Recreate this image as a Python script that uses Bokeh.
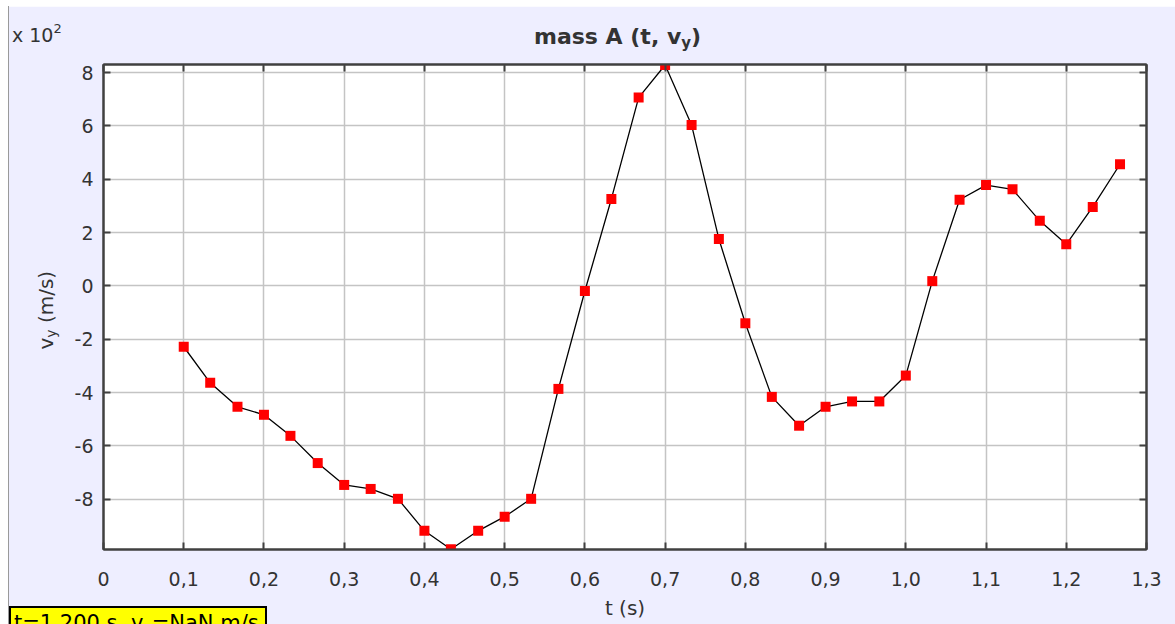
from bokeh.plotting import figure
from bokeh.layouts import column
from bokeh.models import (Range1d, FixedTicker, CustomJSTickFormatter, LinearAxis, Div)
from bokeh.embed import file_html
from bokeh.resources import INLINE

# ---- data ----
t_s = [0.100, 0.133, 0.167, 0.200, 0.233, 0.267, 0.300, 0.333, 0.367, 0.400,
       0.433, 0.467, 0.500, 0.533, 0.567, 0.600, 0.633, 0.667, 0.700, 0.733,
       0.767, 0.800, 0.833, 0.867, 0.900, 0.933, 0.967, 1.000, 1.033, 1.067,
       1.100, 1.133, 1.167, 1.200, 1.233, 1.267]
vy_ms = [-228, -363, -453, -483, -562, -664, -746, -761, -798, -918,
         -987, -918, -865, -798, -386, -19, 326, 706, 828, 603,
         176, -140, -416, -524, -453, -433, -433, -336, 18, 323,
         378, 362, 244, 156, 296, 456]
x_ticks = [0, 0.1, 0.2, 0.3, 0.4, 0.5, 0.6, 0.7, 0.8, 0.9, 1.0, 1.1, 1.2, 1.3]
y_ticks = [-800, -600, -400, -200, 0, 200, 400, 600, 800]

TXT = "#333333"
DARK = "#404040"
FONT = "DejaVu Sans"

p = figure(width=1167, height=618, x_range=Range1d(0, 1.3), y_range=Range1d(-988, 830),
           output_backend="svg", toolbar_location=None,
           min_border_left=95, min_border_right=29, min_border_top=58, min_border_bottom=75,
           background_fill_color="white", border_fill_color="#EEEEFF",
           outline_line_color=DARK, outline_line_width=2, margin=(6, 0, 0, 8))

xt = FixedTicker(ticks=x_ticks)
yt = FixedTicker(ticks=y_ticks)

xaxis = p.xaxis[0]
yaxis = p.yaxis[0]
xaxis.ticker = xt
yaxis.ticker = yt
xaxis.formatter = CustomJSTickFormatter(code="return tick == 0 ? '0' : tick.toFixed(1).replace('.', ',');")
yaxis.formatter = CustomJSTickFormatter(code="return (tick/100).toFixed(0);")

top_ax = LinearAxis(ticker=xt, formatter=CustomJSTickFormatter(code="return '';"))
right_ax = LinearAxis(ticker=yt, formatter=CustomJSTickFormatter(code="return '';"))
p.add_layout(top_ax, "above")
p.add_layout(right_ax, "right")

for ax in [xaxis, yaxis, top_ax, right_ax]:
    ax.axis_line_color = DARK
    ax.axis_line_width = 2
    ax.major_tick_in = 7
    ax.major_tick_out = 0
    ax.major_tick_line_color = DARK
    ax.major_tick_line_width = 2
    ax.minor_tick_line_color = None
    ax.major_label_text_font = FONT
    ax.major_label_text_font_size = "19px"
    ax.major_label_text_color = TXT

top_ax.major_label_standoff = 0
right_ax.major_label_standoff = 0
xaxis.major_label_standoff = 22
yaxis.major_label_standoff = 10
xaxis.axis_label = "t (s)"
xaxis.axis_label_text_font = FONT
xaxis.axis_label_text_font_style = "normal"
xaxis.axis_label_text_font_size = "20px"
xaxis.axis_label_text_color = TXT
xaxis.axis_label_standoff = 7

p.xgrid.ticker = xt
p.ygrid.ticker = yt
p.grid.grid_line_color = "#c4c4c4"
p.grid.grid_line_width = 1.5

p.line(t_s, vy_ms, line_color="black", line_width=1.3)
p.scatter(t_s, vy_ms, marker="square", size=10, fill_color="#ff0000", line_color=None)

# ---- texts outside the plot frame (HTML overlay, page pixel positions) ----
F = "font-family:'DejaVu Sans';white-space:nowrap;position:absolute;line-height:normal;margin:0;box-sizing:border-box;"
overlay_html = f"""
<div style="position:relative;width:1175px;height:624px;pointer-events:none;">
  <div style="position:absolute;left:8px;top:6px;width:1px;height:618px;background:#9a9a9a;"></div>
  <div style="{F}left:534px;top:24px;font-size:22px;font-weight:bold;color:{TXT};padding:0;">mass A (t, v<sub style="font-size:15px;vertical-align:-4px;line-height:0;">y</sub>)</div>
  <div style="{F}left:12px;top:24px;font-size:19px;color:{TXT};padding:0;">x 10<sup style="font-size:13px;vertical-align:9px;line-height:0;">2</sup></div>
  <div style="{F}left:53px;top:331px;font-size:20px;color:{TXT};padding:0;transform-origin:0 18.6px;transform:rotate(-90deg);">v<sub style="font-size:14px;vertical-align:-3px;line-height:0;">y</sub> (m/s)</div>
  <div style="{F}left:9px;top:606px;width:258px;height:32px;font-size:21px;color:black;background:#ffff00;border:2px solid black;padding:3px 0 0 3px;">t=1,200 s, v<sub style="font-size:14px;vertical-align:-4px;line-height:0;">y</sub>=NaN m/s</div>
</div>
"""
overlay = Div(text=overlay_html, width=1175, height=624, margin=0,
              styles={"position": "absolute", "left": "0px", "top": "0px",
                      "pointer-events": "none", "z-index": "10"})

layout = column(p, overlay, margin=0)
open("out.html", "w").write(file_html(layout, INLINE))
